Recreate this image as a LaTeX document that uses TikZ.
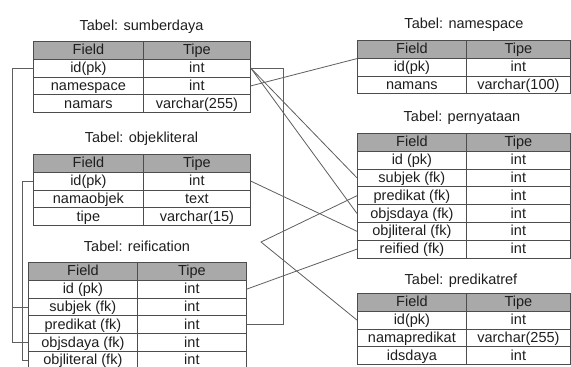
\documentclass[tikz,border=0pt]{standalone}
\usepackage{fontspec}
\setmainfont{Liberation Sans}
\usepackage{xcolor}
\usetikzlibrary{calc}
\definecolor{head}{HTML}{A9A9A9}
\definecolor{grid}{HTML}{4D4D4D}
\definecolor{wire}{HTML}{5E5E5E}
\definecolor{ink}{HTML}{1E1E1E}
\tikzset{
  cell/.style={draw=grid, line width=0.8pt, anchor=north west, minimum height=17.8pt, inner sep=0pt, text height=11pt, text depth=2pt, font=\fontsize{14.5}{16}\selectfont, text=ink},
  hd/.style={cell, fill=head},
  ttl/.style={font=\fontsize{14.5}{16}\selectfont, text=ink, inner sep=0pt, text height=11pt, text depth=2pt},
  link/.style={draw=wire, line width=0.8pt}
}

\begin{document}
\begin{tikzpicture}[x=1pt,y=-1pt]
\useasboundingbox (0,0) rectangle (571,367);
% Tabel: sumberdaya
\node[ttl] (sd-title) at (141.5,25.5) {Tabel: sumberdaya};
\node[hd, minimum width=110pt] (sd-h) at (33,41) {Field};
\node[hd, minimum width=107pt] (sd-ht) at (143,41) {Tipe};
\node[cell, minimum width=110pt] (sd1) at (33,58.8) {id(pk)};
\node[cell, minimum width=107pt] (sd1t) at (143,58.8) {int};
\node[cell, minimum width=110pt] (sd2) at (33,76.6) {namespace};
\node[cell, minimum width=107pt] (sd2t) at (143,76.6) {int};
\node[cell, minimum width=110pt] (sd3) at (33,94.4) {namars};
\node[cell, minimum width=107pt] (sd3t) at (143,94.4) {varchar(255)};
% Tabel: objekliteral
\node[ttl] (ol-title) at (141.5,138) {Tabel: objekliteral};
\node[hd, minimum width=110pt] (ol-h) at (33,154) {Field};
\node[hd, minimum width=107pt] (ol-ht) at (143,154) {Tipe};
\node[cell, minimum width=110pt] (ol1) at (33,171.8) {id(pk)};
\node[cell, minimum width=107pt] (ol1t) at (143,171.8) {int};
\node[cell, minimum width=110pt] (ol2) at (33,189.6) {namaobjek};
\node[cell, minimum width=107pt] (ol2t) at (143,189.6) {text};
\node[cell, minimum width=110pt] (ol3) at (33,207.4) {tipe};
\node[cell, minimum width=107pt] (ol3t) at (143,207.4) {varchar(15)};
% Tabel: reification
\node[ttl] (rf-title) at (137,247) {Tabel: reification};
\node[hd, minimum width=109pt] (rf-h) at (28,262) {Field};
\node[hd, minimum width=109pt] (rf-ht) at (137,262) {Tipe};
\node[cell, minimum width=109pt] (rf1) at (28,279.8) {id (pk)};
\node[cell, minimum width=109pt] (rf1t) at (137,279.8) {int};
\node[cell, minimum width=109pt] (rf2) at (28,297.6) {subjek (fk)};
\node[cell, minimum width=109pt] (rf2t) at (137,297.6) {int};
\node[cell, minimum width=109pt] (rf3) at (28,315.4) {predikat (fk)};
\node[cell, minimum width=109pt] (rf3t) at (137,315.4) {int};
\node[cell, minimum width=109pt] (rf4) at (28,333.2) {objsdaya (fk)};
\node[cell, minimum width=109pt] (rf4t) at (137,333.2) {int};
\node[cell, minimum width=109pt] (rf5) at (28,351) {objliteral (fk)};
\node[cell, minimum width=109pt] (rf5t) at (137,351) {int};
% Tabel: namespace
\node[ttl] (ns-title) at (464,23.5) {Tabel: namespace};
\node[hd, minimum width=109pt] (ns-h) at (357,40) {Field};
\node[hd, minimum width=104pt] (ns-ht) at (466,40) {Tipe};
\node[cell, minimum width=109pt] (ns1) at (357,57.8) {id(pk)};
\node[cell, minimum width=104pt] (ns1t) at (466,57.8) {int};
\node[cell, minimum width=109pt] (ns2) at (357,75.6) {namans};
\node[cell, minimum width=104pt] (ns2t) at (466,75.6) {varchar(100)};
% Tabel: pernyataan
\node[ttl] (pn-title) at (462,117) {Tabel: pernyataan};
\node[hd, minimum width=109pt] (pn-h) at (357,133) {Field};
\node[hd, minimum width=104pt] (pn-ht) at (466,133) {Tipe};
\node[cell, minimum width=109pt] (pn1) at (357,150.8) {id (pk)};
\node[cell, minimum width=104pt] (pn1t) at (466,150.8) {int};
\node[cell, minimum width=109pt] (pn2) at (357,168.6) {subjek (fk)};
\node[cell, minimum width=104pt] (pn2t) at (466,168.6) {int};
\node[cell, minimum width=109pt] (pn3) at (357,186.4) {predikat (fk)};
\node[cell, minimum width=104pt] (pn3t) at (466,186.4) {int};
\node[cell, minimum width=109pt] (pn4) at (357,204.2) {objsdaya (fk)};
\node[cell, minimum width=104pt] (pn4t) at (466,204.2) {int};
\node[cell, minimum width=109pt] (pn5) at (357,222) {objliteral (fk)};
\node[cell, minimum width=104pt] (pn5t) at (466,222) {int};
\node[cell, minimum width=109pt] (pn6) at (357,239.8) {reified (fk)};
\node[cell, minimum width=104pt] (pn6t) at (466,239.8) {int};
% Tabel: predikatref
\node[ttl] (pr-title) at (461,280) {Tabel: predikatref};
\node[hd, minimum width=109pt] (pr-h) at (357,293) {Field};
\node[hd, minimum width=104pt] (pr-ht) at (466,293) {Tipe};
\node[cell, minimum width=109pt] (pr1) at (357,310.8) {id(pk)};
\node[cell, minimum width=104pt] (pr1t) at (466,310.8) {int};
\node[cell, minimum width=109pt] (pr2) at (357,328.6) {namapredikat};
\node[cell, minimum width=104pt] (pr2t) at (466,328.6) {varchar(255)};
\node[cell, minimum width=109pt] (pr3) at (357,346.4) {idsdaya};
\node[cell, minimum width=104pt] (pr3t) at (466,346.4) {int};
% relasi
\coordinate (bend) at (261,242);
\draw[link] (sd1t.east) -- ++(33,0) |- (rf3t.east);
\draw[link] (sd1t.east) -- (pn2.west);
\draw[link] (sd1t.east) -- (pn4.west);
\draw[link] (sd2t.east) -- (ns-h.south west);
\draw[link] (ol1t.east) -- (pn5.west);
\draw[link] (pn3.west) -- (bend) -- (pr1.west);
\draw[link] (pn6.west) -- (rf1t.east);
\draw[link] (sd1.west) -- ++(-21,0) coordinate (lbus) |- (rf4.west);
\draw[link] (lbus |- rf2.west) -- (rf2.west);
\draw[link] (ol1.west) -- ++(-11,0) |- (rf5.west);
\end{tikzpicture}
\end{document}
